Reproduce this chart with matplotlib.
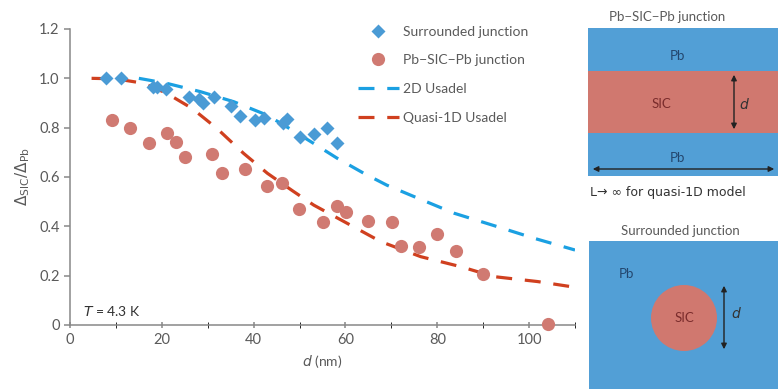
import numpy as np
import matplotlib
matplotlib.use('Agg')
import matplotlib.pyplot as plt
import matplotlib.patches as patches
from matplotlib.ticker import FuncFormatter, MultipleLocator

plt.rcParams['font.family'] = ['Lato', 'DejaVu Sans']

# data
surr_d = [7.9, 11, 18, 19, 21, 26, 28.2, 29, 31.3, 35, 37, 40.2, 42.2, 46.4, 47.2, 50, 53.1, 56, 58.2]
surr_r = [1.0, 1.0, 0.966, 0.963, 0.955, 0.923, 0.916, 0.90, 0.923, 0.888, 0.847, 0.831, 0.838,
          0.817, 0.834, 0.763, 0.774, 0.80, 0.737]
psp_d = [9.1, 13.1, 17.1, 21.1, 23.1, 25.1, 31, 33, 38.2, 42.9, 46.1, 49.9, 55, 58.1, 60.1,
         65, 70.1, 72, 76, 80, 84.1, 90, 104.1]
psp_r = [0.831, 0.797, 0.737, 0.777, 0.743, 0.682, 0.693, 0.617, 0.631, 0.565, 0.577, 0.469,
         0.419, 0.482, 0.457, 0.423, 0.418, 0.32, 0.317, 0.369, 0.301, 0.205, 0.003]
usadel2d_d = [15, 21, 28.4, 35.7, 42.9, 48.4, 53, 58.2, 64, 69, 74.5, 83.7, 93.2, 101.2, 110]
usadel2d_r = [1.0, 0.98, 0.946, 0.905, 0.851, 0.79, 0.737, 0.676, 0.615, 0.567, 0.524, 0.453,
              0.398, 0.351, 0.304]
quasi1d_d = [4.7, 10, 16, 21, 26.6, 32, 37.8, 43, 48.4, 53.1, 60.4, 67.7, 76.4, 85.2, 92.4, 101.9, 110]
quasi1d_r = [1.0, 0.998, 0.98, 0.94, 0.878, 0.797, 0.696, 0.615, 0.545, 0.486, 0.412, 0.338,
             0.277, 0.236, 0.196, 0.176, 0.153]

BLUE_PT = '#4a9bd5'
RED_PT = '#d07a72'
BLUE_LN = '#1ba0e2'
RED_LN = '#d0401f'
GRAY = '#5a5a5a'

fig = plt.figure(figsize=(7.78, 3.89), dpi=100)
ax = fig.add_axes([70/778, 64/389, 505/778, 296/389])

ax.plot(usadel2d_d, usadel2d_r, ls=(0, (5, 4)), lw=2.3, color=BLUE_LN, label='2D Usadel', zorder=2)
ax.plot(quasi1d_d, quasi1d_r, ls=(0, (5, 4)), lw=2.3, color=RED_LN, label='Quasi-1D Usadel', zorder=2)
ax.plot(surr_d, surr_r, 'D', ms=7.5, color=BLUE_PT, mec='none', label='Surrounded junction', zorder=3)
ax.plot(psp_d, psp_r, 'o', ms=9.5, color=RED_PT, mec='none', label='Pb\u2212SIC\u2212Pb junction',
        zorder=3, clip_on=False)

ax.set_xlim(0, 110)
ax.set_ylim(0, 1.2)
ax.xaxis.set_major_locator(MultipleLocator(20))
ax.xaxis.set_minor_locator(MultipleLocator(10))
ax.yaxis.set_major_locator(MultipleLocator(0.2))
ax.yaxis.set_major_formatter(FuncFormatter(lambda v, p: '0' if abs(v) < 1e-9 else '%.1f' % v))
for s in ['top', 'right']:
    ax.spines[s].set_visible(False)
for s in ['left', 'bottom']:
    ax.spines[s].set_color('#888888')
    ax.spines[s].set_linewidth(1.1)
ax.tick_params(axis='both', colors='#888888', labelcolor=GRAY, labelsize=10.5, width=1.1)
ax.tick_params(axis='x', which='both', direction='inout', length=5)
ax.tick_params(axis='y', direction='out', length=4)

ax.set_xlabel(r'$d$ (nm)', color=GRAY, fontsize=10, labelpad=4)
ax.set_ylabel(r'$\Delta_{\rm SIC}/\Delta_{\rm Pb}$', color=GRAY, fontsize=11, labelpad=5)
ax.text(2.8, 0.035, r'$T$ = 4.3 K', color='#333333', fontsize=10)

handles, labels = ax.get_legend_handles_labels()
order = [2, 3, 0, 1]
leg = ax.legend([handles[i] for i in order], [labels[i] for i in order],
                loc='upper left', bbox_to_anchor=(345/778, 1 - 13/389), bbox_transform=fig.transFigure,
                frameon=False, fontsize=10, handlelength=3.0, handletextpad=0.3,
                labelspacing=1.2, labelcolor=GRAY)

# schematic panels in pixel coordinates
sk = fig.add_axes([0, 0, 1, 1])
sk.set_xlim(0, 778)
sk.set_ylim(389, 0)
sk.axis('off')
sk.patch.set_alpha(0)

PB = '#529fd6'
SIC = '#d0786f'
PB_TXT = '#23466e'
SIC_TXT = '#7a2c2c'

# top: Pb-SIC-Pb junction
sk.add_patch(patches.Rectangle((588, 28), 200, 43, facecolor=PB, edgecolor='none'))
sk.add_patch(patches.Rectangle((588, 71), 200, 62, facecolor=SIC, edgecolor='none'))
sk.add_patch(patches.Rectangle((588, 133), 200, 43, facecolor=PB, edgecolor='none'))
sk.text(667, 17, 'Pb\u2212SIC\u2212Pb junction', ha='center', va='center', fontsize=9.5, color=GRAY)
sk.text(677, 56, 'Pb', ha='center', va='center', fontsize=9.5, color=PB_TXT)
sk.text(661, 104, 'SIC', ha='center', va='center', fontsize=9.5, color=SIC_TXT)
sk.text(677, 158, 'Pb', ha='center', va='center', fontsize=9.5, color=PB_TXT)
sk.annotate('', xy=(734, 72), xytext=(734, 132),
            arrowprops=dict(arrowstyle='<|-|>', color='#222222', lw=1, mutation_scale=8))
sk.text(744, 103, r'$d$', ha='center', va='center', fontsize=10, color='#333333')
sk.annotate('', xy=(590, 169), xytext=(777, 169),
            arrowprops=dict(arrowstyle='<|-|>', color='#222222', lw=1, mutation_scale=8))
sk.text(590, 192, 'L\u2192 \u221e for quasi-1D model', ha='left', va='center', fontsize=9, color='#333333',
        family=['DejaVu Sans'])

# bottom: surrounded junction
sk.add_patch(patches.Rectangle((589, 241), 200, 150, facecolor=PB, edgecolor='none'))
sk.text(680, 231, 'Surrounded junction', ha='center', va='center', fontsize=9.5, color=GRAY)
sk.text(626, 274, 'Pb', ha='center', va='center', fontsize=9.5, color=PB_TXT)
sk.add_patch(patches.Circle((684, 318), 33, facecolor=SIC, edgecolor='none'))
sk.text(684, 318, 'SIC', ha='center', va='center', fontsize=9.5, color=SIC_TXT)
sk.annotate('', xy=(724, 283), xytext=(724, 352),
            arrowprops=dict(arrowstyle='<|-|>', color='#222222', lw=1, mutation_scale=8))
sk.text(736, 313, r'$d$', ha='center', va='center', fontsize=10, color='#333333')

fig.savefig('out.png', dpi=100)
